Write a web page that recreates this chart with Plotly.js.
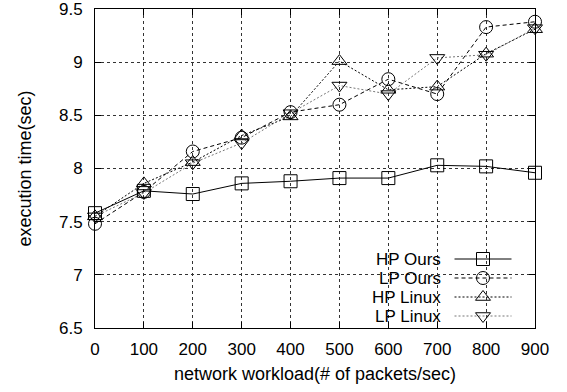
<!DOCTYPE html>
<html>
<head>
<meta charset="utf-8">
<script src="https://cdn.plot.ly/plotly-3.0.1.min.js"></script>
<style>html,body{margin:0;padding:0;background:#fff;}#chart{width:567px;height:392px;}</style>
</head>
<body>
<div id="chart"></div>
<script>
const workload = [0, 100, 200, 300, 400, 500, 600, 700, 800, 900];
const hpOurs  = [7.58, 7.79, 7.76, 7.86, 7.88, 7.91, 7.91, 8.03, 8.02, 7.96];
const lpOurs  = [7.48, 7.78, 8.16, 8.29, 8.53, 8.60, 8.84, 8.70, 9.33, 9.38];
const hpLinux = [7.55, 7.86, 8.06, 8.31, 8.49, 9.01, 8.74, 8.77, 9.08, 9.31];
const lpLinux = [7.55, 7.77, 8.05, 8.24, 8.52, 8.78, 8.70, 9.04, 9.07, 9.32];
const seriesNames = ["HP Ours", "LP Ours", "HP Linux", "LP Linux"];
const xTicks = [0, 100, 200, 300, 400, 500, 600, 700, 800, 900];
const yTicks = [6.5, 7, 7.5, 8, 8.5, 9, 9.5];

const font = "Liberation Sans, Arial, sans-serif";
const W = 567, H = 392, ML = 95, MR = 32, MT = 9, MB = 64;
const PW = W - ML - MR, PH = H - MT - MB;
const px2x = p => (p - ML) / PW;
const px2y = p => (H - MB - p) / PH;

const styles = [
  {sym: "square-open", dash: "solid", color: "#000"},
  {sym: "circle-open", dash: "4px,3px", color: "#000"},
  {sym: "triangle-up-open", dash: "2px,2px", color: "#000"},
  {sym: "triangle-down-open", dash: "2px,2px", color: "#777"}
];
const series = [hpOurs, lpOurs, hpLinux, lpLinux];
const data = [];
series.forEach((ys, i) => {
  const s = styles[i];
  data.push({
    x: workload, y: ys, name: seriesNames[i], type: "scatter", mode: "lines+markers",
    line: {color: s.color, width: 1, dash: s.dash},
    marker: {symbol: s.sym, size: 13, color: "#000", line: {color: "#000", width: 1}},
    cliponaxis: false, showlegend: false
  });
});
// legend keys only (no coordinates); names are drawn as right-aligned annotations
series.forEach((ys, i) => {
  const s = styles[i];
  data.push({
    x: [null], y: [null], name: " ", type: "scatter", mode: "lines+markers",
    line: {color: s.color, width: 1, dash: s.dash},
    marker: {symbol: s.sym, size: 13, color: "#000", line: {color: "#000", width: 1}},
    showlegend: true
  });
});

const axisCommon = {
  showline: true, mirror: "ticks", linecolor: "#000", linewidth: 1,
  ticks: "inside", ticklen: 6, tickcolor: "#000",
  showgrid: true, gridcolor: "#333", griddash: "dot", gridwidth: 1,
  zeroline: false, tickfont: {family: font, size: 17, color: "#000"},
  ticklabeloverflow: "allow"
};
const rowTop = 259.5, rowStep = 19;
const annotations = seriesNames.map((n, i) => ({
  text: n, xref: "paper", yref: "paper", x: px2x(443), y: px2y(rowTop + i * rowStep),
  xanchor: "right", yanchor: "middle", showarrow: false,
  font: {family: font, size: 17, color: "#000"}
}));
const layout = {
  width: W, height: H,
  margin: {l: ML, r: MR, t: MT, b: MB},
  paper_bgcolor: "#fff", plot_bgcolor: "#fff",
  font: {family: font, color: "#000"},
  xaxis: Object.assign({}, axisCommon, {
    range: [0, 900], tickvals: xTicks, ticktext: xTicks.map(String), ticklabelstandoff: 6,
    title: {text: "network workload(# of packets/sec)", font: {family: font, size: 18}, standoff: 8}
  }),
  yaxis: Object.assign({}, axisCommon, {
    range: [6.5, 9.5], tickvals: yTicks, ticktext: yTicks.map(String), ticklabelstandoff: 8,
    title: {text: "execution time(sec)", font: {family: font, size: 18}, standoff: 22}
  }),
  shapes: [{
    type: "rect", xref: "paper", yref: "paper", layer: "between",
    x0: px2x(355), x1: px2x(523), y0: 0, y1: px2y(245),
    fillcolor: "#fff", line: {width: 0}
  }],
  annotations: annotations,
  showlegend: true,
  legend: {
    x: px2x(449.5), y: px2y(rowTop - 15), xanchor: "left", yanchor: "top",
    bgcolor: "rgba(0,0,0,0)", borderwidth: 0, itemwidth: 57,
    font: {family: font, size: 12, color: "#000"},
    tracegroupgap: 0
  }
};
Plotly.newPlot("chart", data, layout, {displayModeBar: false, staticPlot: true});
</script>
</body>
</html>
